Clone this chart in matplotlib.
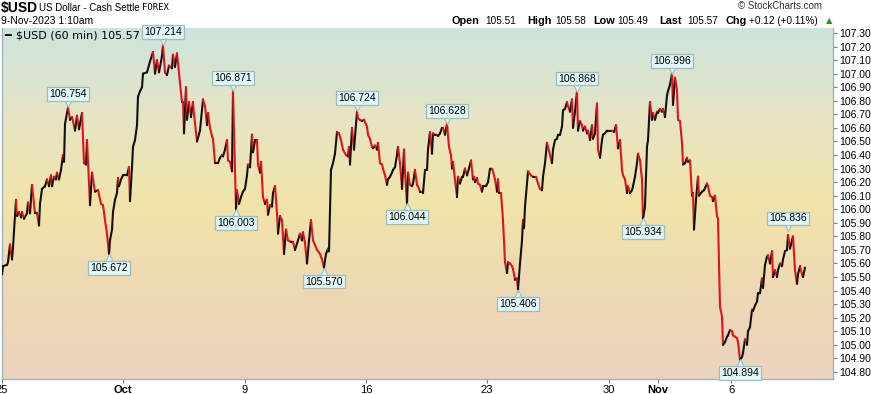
import numpy as np
import matplotlib.pyplot as plt
import matplotlib.transforms as mtransforms
from matplotlib.collections import LineCollection
from matplotlib.colors import LinearSegmentedColormap

plt.rcParams['font.family'] = ['Liberation Sans', 'DejaVu Sans']

# $USD hourly closes (bar index = trading hour since 25 Sep)
hours = [0, 1, 5, 6, 8, 10, 11, 14, 15, 17, 19, 20, 22, 25, 26, 28, 30, 33, 35, 37, 38, 40, 43, 45, 47, 49,
         50, 52, 54, 55, 57, 59, 61, 62, 63, 66, 68, 70, 71, 73, 75, 77, 80, 82, 84, 85, 88, 90, 93, 96, 99,
         101, 103, 105, 107, 108, 110, 111, 113, 115, 116, 117, 119, 121, 125, 127, 128, 130, 131, 133, 135,
         136, 138, 140, 141, 145, 148, 151, 153, 155, 157, 160, 161, 163, 165, 167, 170, 171, 173, 175, 176,
         178, 180, 181, 182, 184, 185, 187, 189, 191, 192, 195, 198, 201, 203, 205, 206,
         208, 210, 211, 213, 216, 218, 220, 221, 223, 225, 226, 228, 230, 231, 234, 235, 237, 239, 241, 243,
         245, 246, 248, 250, 251, 253, 255, 256, 258, 259, 261, 263, 265, 266, 268, 270, 271, 273, 275, 276,
         278, 280, 282, 284, 286, 289, 291, 293, 296, 298, 300, 301, 303, 305, 307, 309, 311, 315, 318, 320,
         322, 324, 326, 327, 329, 331, 333, 335, 337, 339, 341, 344, 346, 347, 348, 350, 352, 355, 356, 358,
         360, 362, 365, 366, 368, 370, 371, 373, 375, 376, 378, 380, 381, 383, 385, 386, 388, 390, 391, 393,
         395, 396, 398, 400, 402, 403, 405, 406, 408, 410,
         411, 413, 415, 416, 418, 420, 421, 423, 425, 426, 428, 430, 431, 433, 435, 436, 438, 440, 441, 443,
         445, 447, 449, 450, 451, 453, 455, 456, 458, 460, 461, 463, 465, 467, 469, 471, 472, 473, 475, 476,
         478, 480, 481, 484, 486, 488, 490, 491, 493, 495, 496, 497, 499, 501, 503, 505, 506, 508, 510, 511,
         513, 515, 516, 518, 520, 521, 522, 523, 525, 526, 529, 531, 534, 536, 538, 540, 541, 543, 545, 546,
         548, 550, 551, 553, 555, 556, 558, 560, 561, 563, 565, 566, 568, 570, 571, 573, 575, 576, 578, 580,
         581, 583, 585, 586, 588, 590, 591, 593, 595, 596, 598, 600, 601, 603, 605, 607, 610, 612, 614, 616,
         618, 620, 621, 623, 625, 626, 628, 630, 631, 633, 635, 636, 638, 640, 641, 643, 645, 646, 648, 650,
         651, 653, 655, 656, 658, 660, 661, 663, 665, 666, 668, 670, 671, 673, 675, 676, 678, 680, 681, 683,
         685, 686, 688, 690, 691, 692, 694, 696, 697, 700, 702, 705, 706, 708, 710, 711, 713, 715, 716, 718,
         720, 721, 723, 725, 726, 728, 730, 731, 733, 735, 736, 738, 740, 741, 743, 745, 746, 748, 750, 751,
         753, 755, 756, 758, 760, 761, 763, 765, 766, 768, 770, 771, 773, 775, 776, 778, 780, 781, 783, 785,
         786, 788, 790, 791, 793, 795, 796, 798, 800, 801, 803]
prices = [105.52, 105.58, 105.59, 105.61, 105.74, 105.63, 105.72, 106.07, 105.95, 105.98, 105.94, 105.98,
          105.93, 105.97, 106.05, 105.97, 106.18, 105.97, 105.97, 105.88, 106.04, 106.15, 106.17, 106.22,
          106.17, 106.25, 106.17, 106.24, 106.22, 106.27, 106.22, 106.29, 106.40, 106.35, 106.63, 106.75,
          106.66, 106.68, 106.65, 106.58, 106.69, 106.59, 106.71, 106.34, 106.33, 106.51, 106.03, 106.27,
          106.13, 106.14, 106.04, 106.03, 105.92, 105.82, 105.67, 105.77, 105.85, 105.98, 106.07, 106.12,
          106.23, 106.17, 106.22, 106.25, 106.25, 106.31, 106.06, 106.31, 106.46, 106.51, 106.62, 106.83,
          106.87, 106.90, 107.00, 107.01, 107.09, 107.16, 107.00, 107.10, 107.01, 107.13, 107.21, 107.01,
          106.99, 107.06, 107.04, 107.14, 107.05, 107.15, 107.08, 106.93, 106.79, 106.79, 106.56, 106.90,
          106.66, 106.79, 106.68, 106.79, 106.70, 106.50, 106.58, 106.81, 106.76, 106.62, 106.71,
          106.60, 106.54, 106.52, 106.34, 106.34, 106.38, 106.40, 106.39, 106.44, 106.51, 106.36, 106.35,
          106.28, 106.87, 106.00, 106.14, 106.04, 106.09, 106.13, 106.15, 106.25, 106.33, 106.31, 106.55,
          106.42, 106.51, 106.51, 106.33, 106.27, 106.35, 106.09, 106.04, 106.07, 105.96, 106.03, 106.02,
          106.12, 106.17, 105.97, 105.82, 105.95, 105.92, 105.67, 105.85, 105.77, 105.76, 105.76, 105.70,
          105.77, 105.82, 105.77, 105.83, 105.75, 105.60, 105.77, 105.92, 105.77, 105.70, 105.67, 105.63,
          105.57, 105.67, 105.71, 105.69, 106.29, 106.34, 106.41, 106.57, 106.56, 106.51, 106.44, 106.40,
          106.39, 106.46, 106.33, 106.60, 106.44, 106.72, 106.67, 106.66, 106.65, 106.66, 106.61, 106.55,
          106.52, 106.46, 106.45, 106.47, 106.44, 106.49, 106.34, 106.33, 106.30, 106.25, 106.18, 106.22,
          106.24, 106.27, 106.29, 106.31, 106.40, 106.46, 106.34, 106.15, 106.44, 106.27, 106.04, 106.27,
          106.18, 106.17,
          106.19, 106.29, 106.18, 106.17, 106.13, 106.13, 106.12, 106.29, 106.29, 106.44, 106.57, 106.41,
          106.56, 106.55, 106.55, 106.54, 106.56, 106.60, 106.60, 106.55, 106.63, 106.46, 106.40, 106.30,
          106.35, 106.22, 106.09, 106.24, 106.19, 106.24, 106.24, 106.30, 106.25, 106.30, 106.36, 106.22,
          106.24, 106.20, 106.23, 106.19, 106.18, 106.13, 106.17, 106.17, 106.20, 106.30, 106.30, 106.28,
          106.22, 106.13, 106.22, 106.12, 106.12, 105.92, 105.61, 105.53, 105.61, 105.60, 105.58, 105.56,
          105.48, 105.49, 105.41, 105.60, 105.77, 105.92, 105.86, 106.02, 106.19, 106.28, 106.25, 106.24,
          106.24, 106.19, 106.15, 106.14, 106.24, 106.34, 106.49, 106.46, 106.40, 106.34, 106.44, 106.51,
          106.52, 106.55, 106.55, 106.61, 106.73, 106.74, 106.79, 106.76, 106.72, 106.81, 106.60, 106.72,
          106.87, 106.58, 106.65, 106.62, 106.58, 106.61, 106.56, 106.58, 106.51, 106.62, 106.52, 106.56,
          106.78, 106.44, 106.38, 106.51, 106.55, 106.56, 106.58, 106.58, 106.58, 106.57, 106.62, 106.45,
          106.51, 106.29, 106.25, 106.22, 106.12, 106.17, 106.12, 106.14, 106.17, 106.24, 106.34, 106.41,
          106.36, 106.22, 105.93, 106.02, 106.46, 106.51, 106.79, 106.66, 106.71, 106.66, 106.72, 106.71,
          106.74, 106.72, 106.74, 106.68, 106.84, 106.87, 106.92, 107.00, 106.77, 106.97, 106.88, 106.66,
          106.65, 106.49, 106.33, 106.34, 106.38, 106.35, 106.36, 106.10, 106.12, 105.85, 106.07, 106.24,
          106.10, 106.13, 106.14, 106.19, 106.17, 106.10, 106.09, 106.06, 106.10, 105.95, 105.93, 105.28,
          105.21, 105.00, 105.02, 105.06, 105.07, 105.11, 105.10, 105.07, 105.06, 105.05, 105.02, 104.89,
          104.91, 104.94, 105.04, 105.00, 105.10, 105.13, 105.26, 105.25, 105.29, 105.32, 105.38, 105.38,
          105.49, 105.42, 105.59, 105.65, 105.66, 105.60, 105.69, 105.50, 105.55, 105.50, 105.55, 105.60,
          105.58, 105.63, 105.69, 105.70, 105.81, 105.71, 105.77, 105.80, 105.55, 105.45, 105.52, 105.58,
          105.52, 105.50, 105.57]

# labelled swing highs / lows
ann_hours = [66, 107, 161, 231, 234, 322, 355, 405, 445, 516, 575, 641, 670, 738, 786]
ann_vals = [106.754, 105.672, 107.214, 106.871, 106.003, 105.570, 106.724, 106.044, 106.628,
            105.406, 106.868, 105.934, 106.996, 104.894, 105.836]
ann_high = [True, False, True, True, False, False, True, False, True, False, True, False, True, False, True]

tick_pos = [0, 121, 243, 364, 485, 607, 656, 729]
tick_lab = ['25', 'Oct', '9', '16', '23', '30', 'Nov', '6']
ytick_vals = np.round(np.arange(104.80, 107.31, 0.10), 2)

W, H = 871, 394
fig = plt.figure(figsize=(W / 100, H / 100), dpi=100)
fig.patch.set_facecolor('white')
ax = fig.add_axes([2 / W, 1 - 379 / H, 831 / W, 351 / H])
ymin, ymax = 104.748, 107.337
xmin, xmax = 0, 831

# background gradient
cmap = LinearSegmentedColormap.from_list('bg', ['#cde4de', '#e6e5c4', '#f1e4a9', '#eed9b4', '#ebd3be'])
grad = np.linspace(0, 1, 256).reshape(-1, 1)
ax.imshow(grad, extent=[xmin, xmax, ymin, ymax], aspect='auto', cmap=cmap, origin='upper', zorder=0)

# price line: black when rising, red when falling
x = np.array(hours)
y = np.array(prices)
segs = np.stack([np.column_stack([x[:-1], y[:-1]]), np.column_stack([x[1:], y[1:]])], axis=1)
cols = ['#111111' if d >= 0 else '#e3121b' for d in np.diff(y)]
lc = LineCollection(segs, colors=cols, linewidths=1.5, zorder=3, capstyle='round', joinstyle='round')
ax.add_collection(lc)

# swing labels
for h, v, hi in zip(ann_hours, ann_vals, ann_high):
    if hi:
        tr = mtransforms.offset_copy(ax.transData, fig=fig, x=0, y=4, units='dots')
        ax.plot([h], [v], marker='v', ms=6, mfc='#dff6f6', mec='#9dbcbc', mew=0.8, transform=tr, zorder=4)
        ax.annotate('%.3f' % v, (h, v), xytext=(0, 8), textcoords='offset pixels', ha='center', va='bottom',
                    fontsize=7.5, zorder=5,
                    bbox=dict(boxstyle='square,pad=0.18', fc='#e2f7f7', ec='#9dbcbc', lw=0.9))
    else:
        tr = mtransforms.offset_copy(ax.transData, fig=fig, x=0, y=-4, units='dots')
        ax.plot([h], [v], marker='^', ms=6, mfc='#dff6f6', mec='#9dbcbc', mew=0.8, transform=tr, zorder=4)
        ax.annotate('%.3f' % v, (h, v), xytext=(0, -9), textcoords='offset pixels', ha='center', va='top',
                    fontsize=7.5, zorder=5,
                    bbox=dict(boxstyle='square,pad=0.18', fc='#e2f7f7', ec='#9dbcbc', lw=0.9))

ax.set_xlim(xmin, xmax)
ax.set_ylim(ymin, ymax)

spine_c = '#9fb4bd'
for s in ['left', 'right', 'bottom']:
    ax.spines[s].set_color(spine_c)
    ax.spines[s].set_linewidth(1)
ax.spines['top'].set_visible(False)

ax.yaxis.tick_right()
ax.set_yticks(ytick_vals)
ax.set_yticklabels(['%.2f' % t for t in ytick_vals])
ax.tick_params(axis='y', which='both', length=3, width=0.8, color='#777777', labelsize=7.5, pad=1.5,
               labelcolor='black')
ax.set_xticks(tick_pos)
ax.set_xticklabels(tick_lab)
ax.tick_params(axis='x', length=3, width=0.8, color='#777777', labelsize=8, pad=1.5)
for lab in ax.get_xticklabels():
    if lab.get_text() in ('Oct', 'Nov'):
        lab.set_fontweight('bold')

# legend line inside plot
fig.text(4 / W, 1 - 36 / H, '\u2501', fontsize=8, va='center', ha='left', color='black', family='DejaVu Sans')
fig.text(16 / W, 1 - 36 / H, '$USD (60 min) 105.57', fontsize=8, va='center', ha='left', family='DejaVu Sans')

# header
fig.text(1 / W, 1 - 8 / H, '$USD', fontsize=10, fontweight='bold', va='center', ha='left')
fig.text(39 / W, 1 - 8 / H, 'US Dollar - Cash Settle', fontsize=7, va='center', ha='left')
fig.text(142 / W, 1 - 8 / H, 'FOREX', fontsize=6.5, va='center', ha='left', family='DejaVu Sans Mono')
fig.text(1 / W, 1 - 20.5 / H, '9-Nov-2023 1:10am', fontsize=7.5, va='center', ha='left')
fig.text(822 / W, 1 - 6 / H, '\u00a9 StockCharts.com', fontsize=7, va='center', ha='right', color='#333333')

hdr_y = 1 - 20.5 / H
parts = [(451, 'Open', True), (485, '105.51', False), (527, 'High', True), (555, '105.58', False),
         (593, 'Low', True), (617, '105.49', False), (659, 'Last', True), (687, '105.57', False),
         (725, 'Chg', True), (749, '+0.12 (+0.11%)', False)]
for px, txt, b in parts:
    fig.text(px / W, hdr_y, txt, fontsize=7.8 if b else 7.2, fontweight='bold' if b else 'normal',
             va='center', ha='left')
fig.text(826 / W, hdr_y, '\u25b2', fontsize=6, va='center', ha='left', color='#2e8b2e', family='DejaVu Sans')

fig.savefig('out.png', dpi=100)
